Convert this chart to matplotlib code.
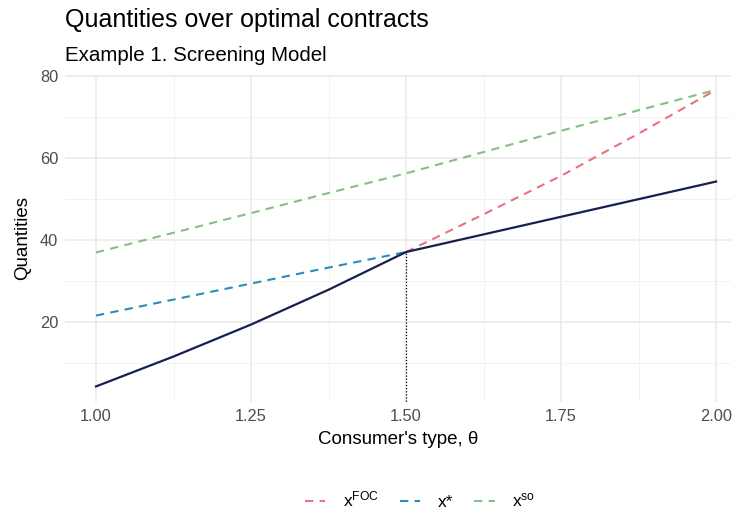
import numpy as np
import matplotlib
matplotlib.use("Agg")
import matplotlib.pyplot as plt

plt.rcParams['font.family'] = ['Liberation Sans', 'DejaVu Sans']
plt.rcParams['mathtext.fontset'] = 'custom'
plt.rcParams['mathtext.rm'] = 'Liberation Sans'
plt.rcParams['mathtext.it'] = 'Liberation Sans:italic'

# values
theta_low = [1.0, 1.125, 1.25, 1.375, 1.5]
theta_high = [1.5, 1.625, 1.75, 1.875, 2.0]
theta_all = [1.0, 1.125, 1.25, 1.375, 1.5, 1.625, 1.75, 1.875, 2.0]

x_star = [21.5, 25.4, 29.3, 33.2, 37.0]
x_foc = [37.0, 46.2, 55.6, 65.9, 76.6]
x_so = [36.9, 41.7, 46.5, 51.4, 56.2, 61.4, 66.6, 71.6, 76.6]
x_opt = [4.2, 11.5, 19.3, 27.8, 37.0, 41.3, 45.6, 49.9, 54.2]

cutoff = 1.5
cutoff_q = 37.0

red = '#E8737E'
blue = '#2B8CB8'
green = '#85BF85'
navy = '#16204F'

fig = plt.figure(figsize=(7.37, 5.15), dpi=100)
ax = fig.add_axes([65 / 737, 1 - 402 / 515, 666 / 737, 327 / 515])

ax.plot(theta_high, x_foc, color=red, ls=(0, (4, 3)), lw=1.5, label=r'x$^{\mathrm{FOC}}$')
ax.plot(theta_low, x_star, color=blue, ls=(0, (4, 3)), lw=1.5, label='x*')
ax.plot(theta_all, x_so, color=green, ls=(0, (4, 3)), lw=1.5, label=r'x$^{\mathrm{so}}$')
ax.plot(theta_all, x_opt, color=navy, lw=1.6)
ax.plot([cutoff, cutoff], [-10, cutoff_q], color='black', ls=(0, (1, 1.5)), lw=0.9)

ax.set_xlim(0.95, 2.024)
ax.set_ylim(0.4, 80.2)
ax.set_xticks([1.0, 1.25, 1.5, 1.75, 2.0])
ax.set_xticklabels(['1.00', '1.25', '1.50', '1.75', '2.00'])
ax.set_yticks([20, 40, 60, 80])
ax.set_xticks([1.125, 1.375, 1.625, 1.875], minor=True)
ax.set_yticks([10, 30, 50, 70], minor=True)
ax.grid(True, which='major', color='#EBEBEB', lw=1.2)
ax.grid(True, which='minor', color='#F2F2F2', lw=0.7)
ax.set_axisbelow(True)
for s in ax.spines.values():
    s.set_visible(False)
ax.tick_params(which='both', length=0, labelsize=11.8, labelcolor='#4D4D4D', pad=5)

ax.set_xlabel("Consumer's type, θ", fontsize=13.5, labelpad=5)
ax.set_ylabel("Quantities", fontsize=13.5, labelpad=6)

fig.text(65 / 737, 1 - 27 / 515, "Quantities over optimal contracts", fontsize=18)
fig.text(65 / 737, 1 - 61 / 515, "Example 1. Screening Model", fontsize=14.8)

fig.legend(loc='lower center', bbox_to_anchor=(420 / 737, -0.02), ncol=3, frameon=False,
           fontsize=12.5, handlelength=1.2, columnspacing=1.2, handletextpad=1.0)

fig.savefig('out.png', dpi=100)
